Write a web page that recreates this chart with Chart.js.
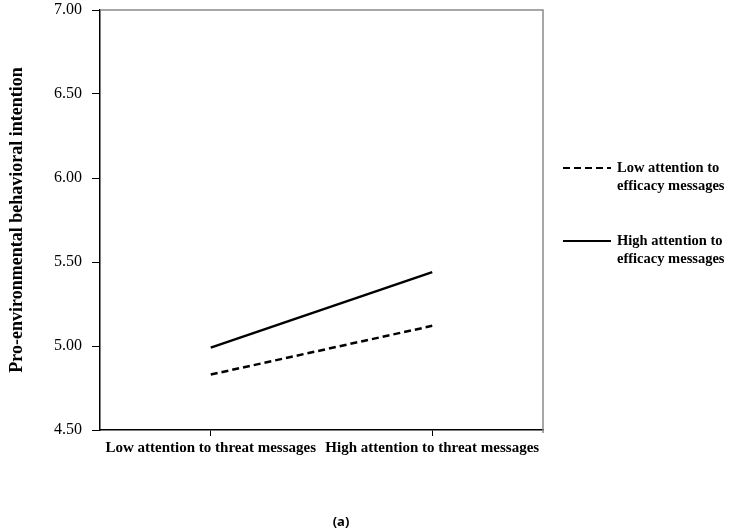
<!DOCTYPE html>
<html>
<head>
<meta charset="utf-8">
<script src="https://cdn.jsdelivr.net/npm/chart.js@4/dist/chart.umd.min.js"></script>
<style>
  html, body { margin: 0; padding: 0; background: #fff; }
  #wrap { width: 730px; height: 532px; }
</style>
</head>
<body>
<div id="wrap"><canvas id="attentionChart" width="730" height="532"></canvas></div>
<script>
// values
const categories = ["Low attention to threat messages", "High attention to threat messages"];
const lowEfficacy = [4.83, 5.12];
const highEfficacy = [4.99, 5.44];
const seriesNames = [["Low attention to", "efficacy messages"], ["High attention to", "efficacy messages"]];
const yTitle = "Pro-environmental behavioral intention";
const panelLabel = "(a)";

const serif = "'Liberation Serif', 'Times New Roman', serif";

// gray frame round the plot + right edge tick
const framePlugin = {
    id: "frame",
    beforeDatasetsDraw(chart) {
        const { ctx, chartArea: a } = chart;
        ctx.save();
        ctx.strokeStyle = "#8a8a8a";
        ctx.lineWidth = 1.5;
        ctx.beginPath();
        ctx.moveTo(a.left, a.top);
        ctx.lineTo(a.right, a.top);
        ctx.lineTo(a.right, a.bottom + 3);
        ctx.stroke();
        ctx.restore();
    }
};

// legend drawn on the right, two-line labels
const sideLegend = {
    id: "sideLegend",
    afterDraw(chart) {
        const { ctx } = chart;
        const rows = [168, 241];
        ctx.save();
        chart.data.datasets.forEach((ds, i) => {
            const y = rows[i];
            ctx.strokeStyle = ds.borderColor;
            ctx.lineWidth = 2;
            ctx.setLineDash(ds.borderDash || []);
            ctx.beginPath();
            ctx.moveTo(563, y);
            ctx.lineTo(611, y);
            ctx.stroke();
            ctx.setLineDash([]);
            ctx.fillStyle = "#000";
            ctx.font = "bold 14.5px " + serif;
            ctx.textBaseline = "middle";
            ctx.textAlign = "left";
            ds.label.forEach((line, j) => ctx.fillText(line, 617, y + j * 18));
        });
        ctx.font = "bold 13px 'Noto Sans', sans-serif";
        ctx.textAlign = "center";
        ctx.fillText(panelLabel, 341, 522);
        ctx.restore();
    }
};

new Chart(document.getElementById("attentionChart"), {
    type: "line",
    data: {
        labels: categories,
        datasets: [
            {
                label: seriesNames[0],
                data: lowEfficacy,
                borderColor: "#000",
                borderWidth: 2.5,
                borderDash: [7, 4],
                pointRadius: 0,
                fill: false,
                tension: 0
            },
            {
                label: seriesNames[1],
                data: highEfficacy,
                borderColor: "#000",
                borderWidth: 2.5,
                pointRadius: 0,
                fill: false,
                tension: 0
            }
        ]
    },
    options: {
        responsive: false,
        animation: false,
        layout: { padding: { left: 0, right: 187, top: 10, bottom: 72 } },
        plugins: {
            legend: { display: false },
            tooltip: { enabled: false }
        },
        scales: {
            x: {
                offset: true,
                grid: { drawOnChartArea: false, offset: false, tickLength: 6, tickColor: "#000" },
                border: { color: "#000", width: 1.5 },
                ticks: { color: "#000", font: { family: serif, size: 15, weight: "bold" }, padding: 3, maxRotation: 0 },
                afterFit(s) { s.height = 30; s.paddingLeft = 0; s.paddingRight = 0; }
            },
            y: {
                min: 4.5,
                max: 7,
                ticks: {
                    stepSize: 0.5,
                    color: "#000",
                    padding: 10,
                    font: { family: serif, size: 16 },
                    callback: v => Number(v).toFixed(2)
                },
                grid: { drawOnChartArea: false, tickLength: 8, tickColor: "#000" },
                border: { color: "#000", width: 1.5 },
                title: {
                    display: true,
                    text: yTitle,
                    color: "#000",
                    font: { family: serif, size: 18, weight: "bold" },
                    padding: { top: 7, bottom: 0 }
                },
                afterFit(s) { s.width = 100; s.paddingTop = 0; s.paddingBottom = 0; }
            }
        }
    },
    plugins: [framePlugin, sideLegend]
});
</script>
</body>
</html>
